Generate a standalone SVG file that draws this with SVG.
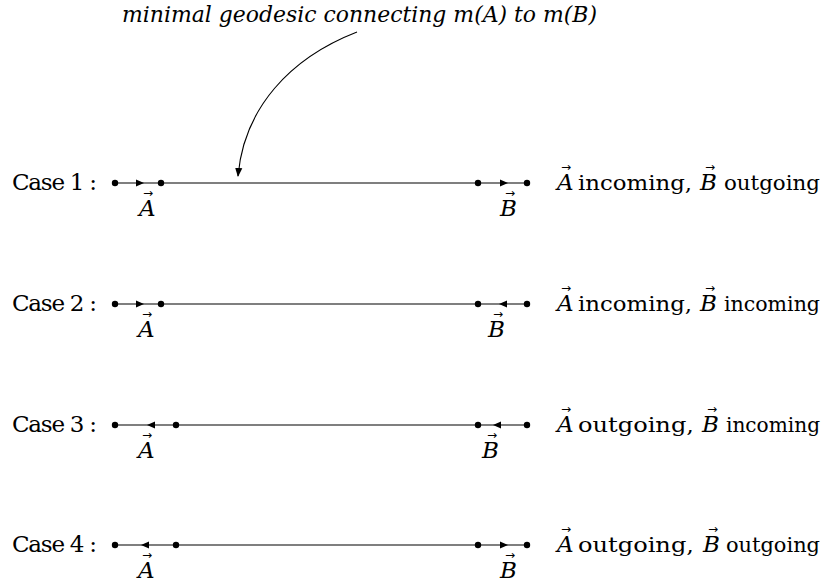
<svg xmlns="http://www.w3.org/2000/svg" width="826" height="586" viewBox="0 0 826 586">
<defs>
<style>
.t{font-family:'DejaVu Serif','Liberation Serif',serif;font-size:23px;fill:#000}
.w{font-size:21px}
.it{font-style:italic}
.vec{font-family:'DejaVu Sans',sans-serif;font-size:12px;font-style:normal;fill:#000}
.ln{stroke:#000;stroke-width:1.1;fill:none}
.dot{fill:#000}
.ah{fill:#000}
</style>
<marker id="curveHead" viewBox="0 0 10 10" refX="9" refY="5" markerWidth="9" markerHeight="9" markerUnits="userSpaceOnUse" orient="auto">
<path d="M0,1 L10,5 L0,9 Z" fill="#000"/>
</marker>
</defs>
<rect width="826" height="586" fill="#fff"/>

<g id="annotation">
<text class="t it" x="122" y="22" textLength="475" lengthAdjust="spacingAndGlyphs">minimal geodesic connecting m(A) to m(B)</text>
</g>

<g id="connectors">
<path class="ln" d="M357,32 C290,58 244,108 238,176" marker-end="url(#curveHead)"/>
<line class="ln" x1="115" y1="183" x2="527" y2="183"/>
<path class="ah" d="M144,183 L136,179.5 L136,186.5 Z"/>
<path class="ah" d="M508,183 L500,179.5 L500,186.5 Z"/>
<line class="ln" x1="115" y1="304" x2="527" y2="304"/>
<path class="ah" d="M144,304 L136,300.5 L136,307.5 Z"/>
<path class="ah" d="M499,304 L507,300.5 L507,307.5 Z"/>
<line class="ln" x1="115" y1="425" x2="527" y2="425"/>
<path class="ah" d="M147,425 L155,421.5 L155,428.5 Z"/>
<path class="ah" d="M493,425 L501,421.5 L501,428.5 Z"/>
<line class="ln" x1="115" y1="545" x2="527" y2="545"/>
<path class="ah" d="M141,545 L149,541.5 L149,548.5 Z"/>
<path class="ah" d="M508,545 L500,541.5 L500,548.5 Z"/>
</g>

<g id="case1">
<text class="t" x="12" y="190" textLength="85" lengthAdjust="spacing">Case 1 :</text>
<circle class="dot" cx="115" cy="183" r="3.2"/><circle class="dot" cx="161" cy="183" r="3.2"/>
<circle class="dot" cx="478" cy="183" r="3.2"/><circle class="dot" cx="527" cy="183" r="3.2"/>
<text class="t it" x="139" y="216">A</text><text class="vec" x="143" y="197">→</text>
<text class="t it" x="500" y="216">B</text><text class="vec" x="505" y="197">→</text>
<text class="t it" x="557" y="190">A</text><text class="vec" x="561" y="171">→</text>
<text class="t w" x="578" y="190" textLength="114" lengthAdjust="spacingAndGlyphs">incoming,</text>
<text class="t it" x="700" y="190">B</text><text class="vec" x="705" y="171">→</text>
<text class="t w" x="724" y="190" textLength="96" lengthAdjust="spacingAndGlyphs">outgoing</text>
</g>

<g id="case2">
<text class="t" x="12" y="311" textLength="85" lengthAdjust="spacing">Case 2 :</text>
<circle class="dot" cx="115" cy="304" r="3.2"/><circle class="dot" cx="161" cy="304" r="3.2"/>
<circle class="dot" cx="478" cy="304" r="3.2"/><circle class="dot" cx="527" cy="304" r="3.2"/>
<text class="t it" x="138" y="337">A</text><text class="vec" x="142" y="318">→</text>
<text class="t it" x="488" y="337">B</text><text class="vec" x="493" y="318">→</text>
<text class="t it" x="557" y="311">A</text><text class="vec" x="561" y="292">→</text>
<text class="t w" x="578" y="311" textLength="114" lengthAdjust="spacingAndGlyphs">incoming,</text>
<text class="t it" x="700" y="311">B</text><text class="vec" x="705" y="292">→</text>
<text class="t w" x="724" y="311" textLength="96" lengthAdjust="spacingAndGlyphs">incoming</text>
</g>

<g id="case3">
<text class="t" x="12" y="432" textLength="85" lengthAdjust="spacing">Case 3 :</text>
<circle class="dot" cx="115" cy="425" r="3.2"/><circle class="dot" cx="176" cy="425" r="3.2"/>
<circle class="dot" cx="478" cy="425" r="3.2"/><circle class="dot" cx="527" cy="425" r="3.2"/>
<text class="t it" x="138" y="458">A</text><text class="vec" x="142" y="439">→</text>
<text class="t it" x="482" y="458">B</text><text class="vec" x="487" y="439">→</text>
<text class="t it" x="557" y="432">A</text><text class="vec" x="561" y="413">→</text>
<text class="t w" x="578" y="432" textLength="116" lengthAdjust="spacingAndGlyphs">outgoing,</text>
<text class="t it" x="702" y="432">B</text><text class="vec" x="707" y="413">→</text>
<text class="t w" x="726" y="432" textLength="94" lengthAdjust="spacingAndGlyphs">incoming</text>
</g>

<g id="case4">
<text class="t" x="12" y="552" textLength="85" lengthAdjust="spacing">Case 4 :</text>
<circle class="dot" cx="115" cy="545" r="3.2"/><circle class="dot" cx="176" cy="545" r="3.2"/>
<circle class="dot" cx="478" cy="545" r="3.2"/><circle class="dot" cx="527" cy="545" r="3.2"/>
<text class="t it" x="138" y="578">A</text><text class="vec" x="142" y="559">→</text>
<text class="t it" x="500" y="578">B</text><text class="vec" x="505" y="559">→</text>
<text class="t it" x="557" y="552">A</text><text class="vec" x="561" y="533">→</text>
<text class="t w" x="578" y="552" textLength="116" lengthAdjust="spacingAndGlyphs">outgoing,</text>
<text class="t it" x="703" y="552">B</text><text class="vec" x="708" y="533">→</text>
<text class="t w" x="726" y="552" textLength="94" lengthAdjust="spacingAndGlyphs">outgoing</text>
</g>
</svg>
